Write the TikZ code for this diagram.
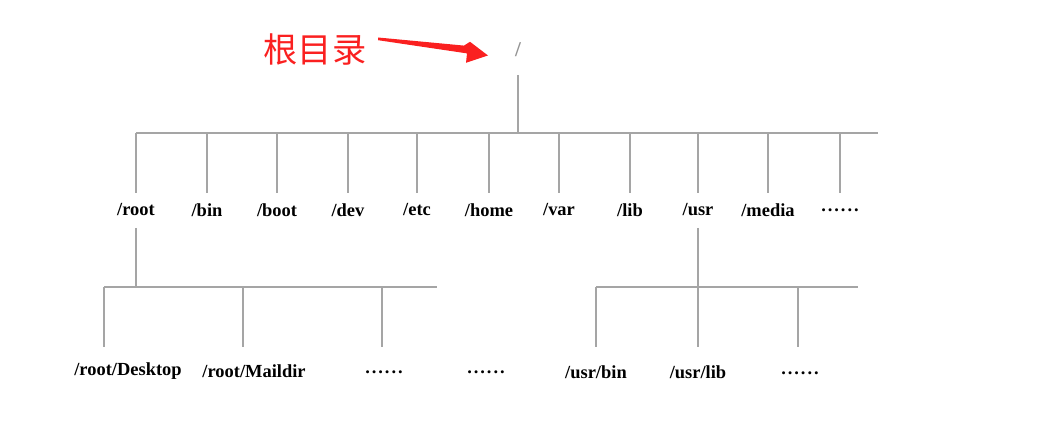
\documentclass[tikz,border=0pt]{standalone}
\usepackage{fontspec}
\setmainfont{Liberation Serif}
\newfontfamily\cjk{Noto Sans CJK SC}
\usetikzlibrary{calc}
\definecolor{markred}{RGB}{250,32,32}
\definecolor{linegray}{RGB}{165,165,165}
\newcommand\moredots{.\kern1.1pt.\kern1.1pt.\kern1.1pt.\kern1.1pt.\kern1.1pt.}

\begin{document}
\begin{tikzpicture}[x=0.02cm,y=-0.02cm,
  dir/.style={font=\fontsize{10.5}{12}\selectfont\bfseries, inner sep=0pt},
  branch/.style={draw=linegray, line width=0.8pt}]

\useasboundingbox (0,0) rectangle (1061,448);

% root and its note
\node[text=gray!85, font=\fontsize{12}{14}\selectfont\bfseries, inner sep=0pt] (top) at (518,50) {/};
\node[text=markred, font=\cjk\fontsize{19.5}{22}\selectfont, inner sep=0pt] (note) at (315,50) {根目录};
\fill[markred] (378,37.5) -- (464,45.6) -- (470,41.8) -- (488,55.5) -- (466,62.8) -- (467,53.4) -- (378,40.2) -- cycle;

% first level
\coordinate (bar1) at (136,133);
\coordinate (end1) at (0,193);
\draw[branch] (top |- 0,75) -- (top |- bar1);
\draw[branch] (bar1) -- (878,133);
\foreach \x/\n/\t in {136/root/{/root}, 207/bin/{/bin}, 277/boot/{/boot}, 348/dev/{/dev},
    417/etc/{/etc}, 489/home/{/home}, 559/var/{/var}, 630/lib/{/lib},
    698/usr/{/usr}, 768/media/{/media}, 840/more/{\moredots}}
{
  \node[dir] (\n) at (\x,210) {\t};
  \draw[branch] (\n |- bar1) -- (\n |- end1);
}

% under /root
\coordinate (bar2) at (104,287);
\coordinate (beg2) at (0,228);
\draw[branch] (root |- beg2) -- (root |- bar2);
\draw[branch] (bar2) -- (437,287);
\node[dir] (desk) at (128,371) {/root/Desktop};
\node[dir] (mail) at (254,371) {/root/Maildir};
\node[dir] (rmore) at (384,372) {\moredots};
\node[dir] (gap) at (486,372) {\moredots};
\coordinate (dDesk) at (104,347);
\coordinate (dMail) at (243,347);
\coordinate (dMore) at (382,347);
\foreach \c in {dDesk, dMail, dMore}
  \draw[branch] (\c |- bar2) -- (\c);

% under /usr
\coordinate (bar3) at (596,287);
\draw[branch] (usr |- beg2) -- (usr |- bar3);
\draw[branch] (bar3) -- (858,287);
\node[dir] (ubin) at (596,372) {/usr/bin};
\node[dir] (ulib) at (698,372) {/usr/lib};
\node[dir] (umore) at (800,373) {\moredots};
\coordinate (dBin) at (596,347);
\coordinate (dLib) at (698,347);
\coordinate (dUmore) at (798,347);
\foreach \c in {dBin, dLib, dUmore}
  \draw[branch] (\c |- bar3) -- (\c);

\end{tikzpicture}
\end{document}
